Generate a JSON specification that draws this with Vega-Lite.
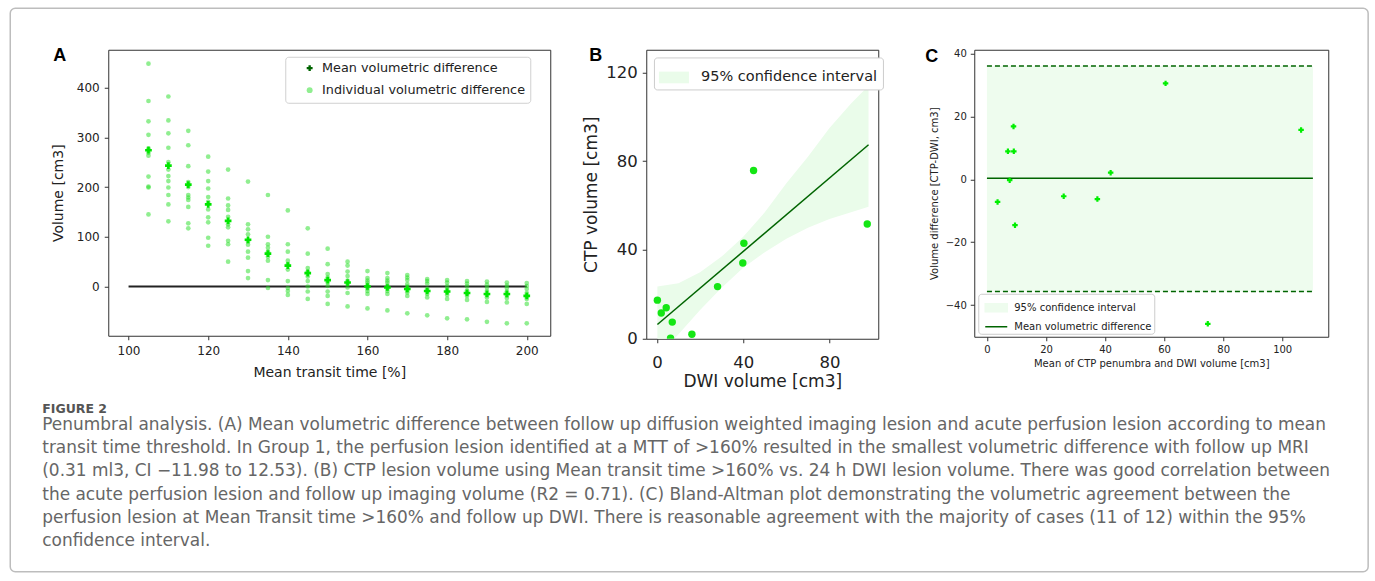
{
"$schema": "https://vega.github.io/schema/vega-lite/v6.json",
"background": "white",
"padding": {"left": 8.25, "top": 6.75, "right": 0, "bottom": 0},
"autosize": {"type": "pad"},
"bounds": "flush",
"spacing": 96,
"resolve": {"scale": {"color": "independent", "shape": "independent", "stroke": "independent"}, "legend": {"color": "independent", "shape": "independent", "stroke": "independent"}},
"title": {
 "text": "FIGURE 2",
 "subtitle": [
  "Penumbral analysis. (A) Mean volumetric difference between follow up diffusion weighted imaging lesion and acute perfusion lesion according to mean",
  "transit time threshold. In Group 1, the perfusion lesion identified at a MTT of >160% resulted in the smallest volumetric difference with follow up MRI",
  "(0.31 ml3, CI −11.98 to 12.53). (B) CTP lesion volume using Mean transit time >160% vs. 24 h DWI lesion volume. There was good correlation between",
  "the acute perfusion lesion and follow up imaging volume (R2 = 0.71). (C) Bland-Altman plot demonstrating the volumetric agreement between the",
  "perfusion lesion at Mean Transit time >160% and follow up DWI. There is reasonable agreement with the majority of cases (11 of 12) within the 95%",
  "confidence interval."
 ],
 "orient": "bottom", "anchor": "start", "frame": "group",
 "dx": -66, "offset": -170.25, "baseline": "top",
 "font": "DejaVu Sans", "fontSize": 12.5, "fontWeight": "bold", "color": "#555555",
 "subtitleFont": "DejaVu Sans", "subtitleFontSize": 16.95, "subtitleColor": "#666666",
 "subtitleLineHeight": 23.3, "subtitlePadding": 1.5
},
"config": {
 "font": "DejaVu Sans",
 "view": {"stroke": "#333333", "strokeWidth": 1},
 "axis": {"domain": false, "grid": false, "tickColor": "#333333", "tickSize": 4, "labelColor": "#222222", "titleColor": "#222222", "titleFontWeight": "normal", "labelFont": "DejaVu Sans", "titleFont": "DejaVu Sans"},
 "legend": {"labelFont": "DejaVu Sans", "labelColor": "#222222", "labelLimit": 0}
},
"datasets": {
 "aind": [
  {"t":105,"v":448},{"t":105,"v":373},{"t":105,"v":332},{"t":105,"v":305},{"t":105,"v":278},{"t":105,"v":269},{"t":105,"v":263},{"t":105,"v":221},{"t":105,"v":201},{"t":105,"v":199},{"t":105,"v":145},
  {"t":110,"v":382},{"t":110,"v":334},{"t":110,"v":308},{"t":110,"v":279},{"t":110,"v":250},{"t":110,"v":235},{"t":110,"v":222},{"t":110,"v":212},{"t":110,"v":199},{"t":110,"v":184},{"t":110,"v":165},{"t":110,"v":131},
  {"t":115,"v":313},{"t":115,"v":284},{"t":115,"v":242},{"t":115,"v":210},{"t":115,"v":200},{"t":115,"v":184},{"t":115,"v":179},{"t":115,"v":174},{"t":115,"v":160},{"t":115,"v":127},{"t":115,"v":117},
  {"t":120,"v":261},{"t":120,"v":231},{"t":120,"v":212},{"t":120,"v":197},{"t":120,"v":180},{"t":120,"v":170},{"t":120,"v":155},{"t":120,"v":139},{"t":120,"v":129},{"t":120,"v":98},{"t":120,"v":82},
  {"t":125,"v":235},{"t":125,"v":177},{"t":125,"v":163},{"t":125,"v":154},{"t":125,"v":140},{"t":125,"v":125},{"t":125,"v":119},{"t":125,"v":92},{"t":125,"v":85},{"t":125,"v":50},
  {"t":130,"v":211},{"t":130,"v":125},{"t":130,"v":115},{"t":130,"v":105},{"t":130,"v":90},{"t":130,"v":84},{"t":130,"v":70},{"t":130,"v":58},{"t":130,"v":31},{"t":130,"v":17},
  {"t":135,"v":184},{"t":135,"v":100},{"t":135,"v":85},{"t":135,"v":78},{"t":135,"v":70},{"t":135,"v":60},{"t":135,"v":52},{"t":135,"v":13},{"t":135,"v":-3},
  {"t":140,"v":153},{"t":140,"v":85},{"t":140,"v":70},{"t":140,"v":52},{"t":140,"v":45},{"t":140,"v":34},{"t":140,"v":11},{"t":140,"v":-3},{"t":140,"v":-9},{"t":140,"v":-17},
  {"t":145,"v":117},{"t":145,"v":66},{"t":145,"v":37},{"t":145,"v":30},{"t":145,"v":20},{"t":145,"v":11},{"t":145,"v":0},{"t":145,"v":-10},{"t":145,"v":-25},
  {"t":150,"v":76},{"t":150,"v":45},{"t":150,"v":25},{"t":150,"v":18},{"t":150,"v":8},{"t":150,"v":1},{"t":150,"v":-10},{"t":150,"v":-19},{"t":150,"v":-35},
  {"t":155,"v":50},{"t":155,"v":42},{"t":155,"v":30},{"t":155,"v":21},{"t":155,"v":12},{"t":155,"v":5},{"t":155,"v":-2},{"t":155,"v":-13},{"t":155,"v":-40},
  {"t":160,"v":31},{"t":160,"v":17},{"t":160,"v":12},{"t":160,"v":8},{"t":160,"v":3},{"t":160,"v":-4},{"t":160,"v":-9},{"t":160,"v":-15},{"t":160,"v":-44},
  {"t":165,"v":27},{"t":165,"v":17},{"t":165,"v":12},{"t":165,"v":8},{"t":165,"v":2},{"t":165,"v":-4},{"t":165,"v":-9},{"t":165,"v":-15},{"t":165,"v":-48},
  {"t":170,"v":23},{"t":170,"v":18},{"t":170,"v":13},{"t":170,"v":5},{"t":170,"v":0},{"t":170,"v":-8},{"t":170,"v":-12},{"t":170,"v":-19},{"t":170,"v":-54},
  {"t":175,"v":15},{"t":175,"v":11},{"t":175,"v":6},{"t":175,"v":-4},{"t":175,"v":-9},{"t":175,"v":-15},{"t":175,"v":-22},{"t":175,"v":-58},
  {"t":180,"v":13},{"t":180,"v":8},{"t":180,"v":1},{"t":180,"v":-5},{"t":180,"v":-12},{"t":180,"v":-17},{"t":180,"v":-25},{"t":180,"v":-64},
  {"t":185,"v":11},{"t":185,"v":6},{"t":185,"v":0},{"t":185,"v":-8},{"t":185,"v":-14},{"t":185,"v":-19},{"t":185,"v":-27},{"t":185,"v":-66},
  {"t":190,"v":10},{"t":190,"v":4},{"t":190,"v":-2},{"t":190,"v":-9},{"t":190,"v":-17},{"t":190,"v":-22},{"t":190,"v":-31},{"t":190,"v":-71},
  {"t":195,"v":8},{"t":195,"v":2},{"t":195,"v":-3},{"t":195,"v":-10},{"t":195,"v":-18},{"t":195,"v":-23},{"t":195,"v":-32},{"t":195,"v":-74},
  {"t":200,"v":7},{"t":200,"v":1},{"t":200,"v":-5},{"t":200,"v":-13},{"t":200,"v":-20},{"t":200,"v":-25},{"t":200,"v":-35},{"t":200,"v":-74}
 ],
 "amean": [
  {"t":105,"v":274},{"t":110,"v":243},{"t":115,"v":205},{"t":120,"v":165},{"t":125,"v":132},{"t":130,"v":94},{"t":135,"v":66},{"t":140,"v":42},{"t":145,"v":27},{"t":150,"v":13},
  {"t":155,"v":8},{"t":160,"v":0},{"t":165,"v":-2},{"t":170,"v":-5},{"t":175,"v":-9},{"t":180,"v":-10},{"t":185,"v":-13},{"t":190,"v":-15},{"t":195,"v":-15},{"t":200,"v":-19}
 ],
 "bpts": [
  {"x":0.2,"y":17.4},{"x":2.0,"y":11.6},{"x":4.3,"y":14.0},{"x":7.1,"y":7.5},{"x":6.3,"y":0.3},{"x":16.2,"y":2.0},
  {"x":28.1,"y":23.5},{"x":40.3,"y":43.0},{"x":39.8,"y":34.1},{"x":44.8,"y":75.8},{"x":97.5,"y":51.7},{"x":98.1,"y":114.1}
 ],
 "bfit": [{"x":0.2,"y":6.4},{"x":98.1,"y":87.4}],
 "bband": [
  {"x":0.2,"lo":-8,"hi":23.5},{"x":10,"lo":2,"hi":25},{"x":20,"lo":13,"hi":30},{"x":30,"lo":23,"hi":37},{"x":40,"lo":32,"hi":46},
  {"x":50,"lo":39,"hi":57},{"x":60,"lo":45,"hi":70},{"x":70,"lo":50,"hi":82},{"x":80,"lo":54,"hi":95},{"x":90,"lo":57,"hi":106},{"x":98.1,"lo":59.5,"hi":114}
 ],
 "cpts": [
  {"x":3.6,"y":-7.2},{"x":7.1,"y":8.9},{"x":9.1,"y":8.9},{"x":9.0,"y":16.8},{"x":7.7,"y":-0.3},{"x":9.5,"y":-14.6},
  {"x":26.0,"y":-5.4},{"x":37.4,"y":-6.3},{"x":41.9,"y":2.1},{"x":60.5,"y":30.5},{"x":74.8,"y":-46.0},{"x":106.4,"y":15.7}
 ]
},
"hconcat": [
 {
  "width": 442, "height": 286,
  "title": {"text": "A", "anchor": "start", "frame": "group", "dx": -55, "offset": -71.25, "baseline": "alphabetic", "font": "Liberation Sans", "fontSize": 18, "fontWeight": "bold", "color": "#000000"},
  "layer": [
   {
    "data": {"values": [{}]},
    "mark": {"type": "rect", "fill": "transparent", "stroke": "#bdbdbd", "strokeWidth": 1.5, "cornerRadius": 5},
    "encoding": {
     "x": {"datum": 70.29, "type": "quantitative", "scale": {"domain": [94.9, 205.9], "nice": false, "zero": false}, "axis": {"title": "Mean transit time [%]"}},
     "x2": {"datum": 411.3},
     "y": {"datum": 559.4, "type": "quantitative", "scale": {"domain": [-99, 476], "nice": false, "zero": false}, "axis": {"title": "Volume [cm3]"}},
     "y2": {"datum": -573.5}
    }
   },
   {
    "data": {"values": [{}]},
    "mark": {"type": "rule", "color": "#222222", "strokeWidth": 2},
    "encoding": {
     "x": {"datum": 100, "type": "quantitative"},
     "x2": {"datum": 200},
     "y": {"datum": 0, "type": "quantitative"}
    }
   },
   {
    "data": {"name": "aind"},
    "mark": {"type": "point", "filled": true, "color": "#22dd22", "opacity": 0.5, "size": 22},
    "encoding": {
     "x": {"field": "t", "type": "quantitative", "scale": {"domain": [94.9, 205.9], "nice": false, "zero": false},
           "axis": {"title": "Mean transit time [%]", "values": [100,120,140,160,180,200], "labelFontSize": 12, "titleFontSize": 14, "labelPadding": 6, "titlePadding": 9}},
     "y": {"field": "v", "type": "quantitative", "scale": {"domain": [-99, 476], "nice": false, "zero": false},
           "axis": {"title": "Volume [cm3]", "values": [0,100,200,300,400], "labelFontSize": 12, "titleFontSize": 14, "labelPadding": 5, "titlePadding": 11}}
    }
   },
   {
    "data": {"name": "amean"},
    "mark": {"type": "point", "filled": true, "shape": "cross", "color": "#00e600", "opacity": 1, "size": 45},
    "encoding": {
     "x": {"field": "t", "type": "quantitative"},
     "y": {"field": "v", "type": "quantitative"}
    }
   },
   {
    "data": {"values": []},
    "mark": {"type": "point", "filled": true, "opacity": 1},
    "encoding": {
     "color": {"datum": "Mean volumetric difference", "type": "nominal",
       "scale": {"domain": ["Mean volumetric difference", "Individual volumetric difference"], "range": ["#006400", "#90ee90"]},
       "legend": {"title": null, "orient": "none", "legendX": 177, "legendY": 7, "padding": 5, "fillColor": "white", "strokeColor": "#d0d0d0", "cornerRadius": 3,
         "labelFontSize": 12.8, "symbolSize": 35, "symbolOffset": 13, "labelOffset": 6, "rowPadding": 8, "symbolOpacity": 1, "symbolStrokeWidth": 0}},
     "shape": {"datum": "Mean volumetric difference", "type": "nominal",
       "scale": {"domain": ["Mean volumetric difference", "Individual volumetric difference"], "range": ["cross", "circle"]},
       "legend": {"title": null, "orient": "none", "legendX": 177, "legendY": 7, "padding": 5, "fillColor": "white", "strokeColor": "#d0d0d0", "cornerRadius": 3,
         "labelFontSize": 12.8, "symbolSize": 35, "symbolOffset": 13, "labelOffset": 6, "rowPadding": 8, "symbolOpacity": 1, "symbolStrokeWidth": 0}}
    }
   }
  ]
 },
 {
  "width": 232, "height": 289,
  "title": {"text": "B", "anchor": "start", "frame": "group", "dx": -57, "offset": -29, "baseline": "alphabetic", "font": "Liberation Sans", "fontSize": 18, "fontWeight": "bold", "color": "#000000"},
  "layer": [
   {
    "data": {"name": "bband"},
    "mark": {"type": "area", "clip": true, "opacity": 1},
    "encoding": {
     "x": {"field": "x", "type": "quantitative", "scale": {"domain": [-4.96, 102.6], "nice": false, "zero": false},
           "axis": {"title": "DWI volume [cm3]", "values": [0,40,80], "labelFontSize": 16.5, "titleFontSize": 17, "labelPadding": 12, "titlePadding": 2.5}},
     "y": {"field": "lo", "type": "quantitative", "scale": {"domain": [0, 130.2], "nice": false, "zero": false},
           "axis": {"title": "CTP volume [cm3]", "values": [0,40,80,120], "labelFontSize": 16.5, "titleFontSize": 17, "labelPadding": 5, "titlePadding": 5}},
     "y2": {"field": "hi"},
     "color": {"datum": "95% confidence interval", "type": "nominal", "scale": {"domain": ["95% confidence interval"], "range": ["#eafcea"]},
       "legend": {"title": null, "orient": "none", "legendX": 7.7, "legendY": 7.7, "padding": 5, "fillColor": "white", "strokeColor": "#cccccc", "cornerRadius": 3,
         "symbolType": "M-1,-0.39H1V0.39H-1Z", "symbolSize": 900, "symbolStrokeWidth": 0, "labelFontSize": 14.5, "labelOffset": 12}}
    }
   },
   {
    "data": {"name": "bfit"},
    "mark": {"type": "line", "color": "#006400", "strokeWidth": 1.5},
    "encoding": {
     "x": {"field": "x", "type": "quantitative"},
     "y": {"field": "y", "type": "quantitative"}
    }
   },
   {
    "data": {"name": "bpts"},
    "mark": {"type": "circle", "color": "#14e614", "opacity": 1, "size": 55, "clip": true},
    "encoding": {
     "x": {"field": "x", "type": "quantitative"},
     "y": {"field": "y", "type": "quantitative"}
    }
   }
  ]
 },
 {
  "width": 354, "height": 287,
  "title": {"text": "C", "anchor": "start", "frame": "group", "dx": -49, "offset": -31, "baseline": "alphabetic", "font": "Liberation Sans", "fontSize": 18, "fontWeight": "bold", "color": "#000000"},
  "layer": [
   {
    "data": {"values": [{"x1": 0, "x2": 110.4, "lo": -35.7, "hi": 36.0}]},
    "mark": {"type": "rect", "color": "#eefcee", "opacity": 1},
    "encoding": {
     "x": {"field": "x1", "type": "quantitative", "scale": {"domain": [-4.3, 115.6], "nice": false, "zero": false},
           "axis": {"title": "Mean of CTP penumbra and DWI volume [cm3]", "values": [0,20,40,60,80,100], "labelFontSize": 10, "titleFontSize": 10, "labelPadding": 4, "titlePadding": 4}},
     "x2": {"field": "x2"},
     "y": {"field": "lo", "type": "quantitative", "scale": {"domain": [-50.1, 41.2], "nice": false, "zero": false},
           "axis": {"title": "Volume difference [CTP-DWI, cm3]", "values": [-40,-20,0,20,40], "labelFontSize": 10, "titleFontSize": 10, "labelPadding": 4, "titlePadding": 6}},
     "y2": {"field": "hi"}
    }
   },
   {
    "data": {"values": [{"x1": 0, "x2": 110.4, "y": 36.0}, {"x1": 0, "x2": 110.4, "y": -35.7}]},
    "mark": {"type": "rule", "color": "#006400", "strokeWidth": 1.5, "strokeDash": [5, 3]},
    "encoding": {
     "x": {"field": "x1", "type": "quantitative"},
     "x2": {"field": "x2"},
     "y": {"field": "y", "type": "quantitative"}
    }
   },
   {
    "data": {"values": [{"x1": 0, "x2": 110.4, "y": 0.31}]},
    "mark": {"type": "rule", "color": "#006400", "strokeWidth": 1.5},
    "encoding": {
     "x": {"field": "x1", "type": "quantitative"},
     "x2": {"field": "x2"},
     "y": {"field": "y", "type": "quantitative"}
    }
   },
   {
    "data": {"name": "cpts"},
    "mark": {"type": "point", "shape": "cross", "filled": true, "color": "#00ee00", "opacity": 1, "size": 30},
    "encoding": {
     "x": {"field": "x", "type": "quantitative"},
     "y": {"field": "y", "type": "quantitative"}
    }
   },
   {
    "data": {"values": []},
    "mark": {"type": "point", "filled": true, "opacity": 1, "strokeWidth": 1.5},
    "encoding": {
     "color": {"datum": "95% confidence interval", "type": "nominal",
       "scale": {"domain": ["95% confidence interval", "Mean volumetric difference"], "range": ["#eefcee", "#006400"]},
       "legend": {"title": null, "orient": "none", "legendX": 4, "legendY": 244, "padding": 2, "fillColor": "white", "strokeColor": "#cccccc", "cornerRadius": 3,
         "symbolSize": 484, "symbolStrokeWidth": 1.5, "symbolOffset": 4, "labelFontSize": 10, "labelOffset": 6, "rowPadding": -3.6, "symbolOpacity": 1}},
     "stroke": {"datum": "95% confidence interval", "type": "nominal",
       "scale": {"domain": ["95% confidence interval", "Mean volumetric difference"], "range": ["#eefcee", "#006400"]},
       "legend": {"title": null, "orient": "none", "legendX": 4, "legendY": 244, "padding": 2, "fillColor": "white", "strokeColor": "#cccccc", "cornerRadius": 3,
         "symbolSize": 484, "symbolStrokeWidth": 1.5, "symbolOffset": 4, "labelFontSize": 10, "labelOffset": 6, "rowPadding": -3.6, "symbolOpacity": 1}},
     "shape": {"datum": "95% confidence interval", "type": "nominal",
       "scale": {"domain": ["95% confidence interval", "Mean volumetric difference"], "range": ["M-1,-0.36H1V0.36H-1Z", "stroke"]},
       "legend": {"title": null, "orient": "none", "legendX": 4, "legendY": 244, "padding": 2, "fillColor": "white", "strokeColor": "#cccccc", "cornerRadius": 3,
         "symbolSize": 484, "symbolStrokeWidth": 1.5, "symbolOffset": 4, "labelFontSize": 10, "labelOffset": 6, "rowPadding": -3.6, "symbolOpacity": 1}}
    }
   }
  ]
 }
]
}
